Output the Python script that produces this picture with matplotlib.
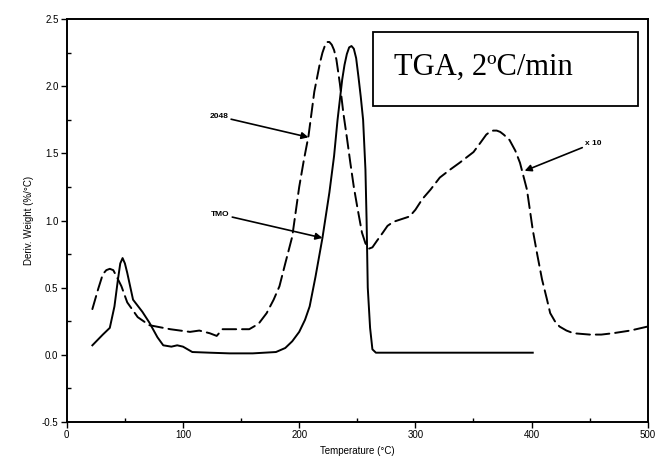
import matplotlib
matplotlib.use('Agg')
from matplotlib import pyplot as plt
from matplotlib.patches import Rectangle
from matplotlib.ticker import MultipleLocator

# 2048 sample (dashed)
t_2048 = [22, 27, 31, 34, 37, 40, 43, 47, 52, 61, 71, 89, 106, 114, 123, 129, 134, 149, 157,
          165, 172, 178, 183, 188, 194, 200, 204, 208, 213, 218, 220, 222, 224, 226, 228,
          230, 232, 235, 238, 241, 244, 247, 250, 254, 257, 260, 263, 267, 272, 276, 281,
          288, 295, 300, 306, 313, 321, 330, 338, 344, 350, 356, 361, 364, 367, 370, 373,
          376, 381, 386, 390, 396, 401, 405, 409, 413, 416, 420, 424, 430, 436, 450, 460,
          470, 485, 500]
d_2048 = [0.34, 0.49, 0.60, 0.63, 0.64, 0.63, 0.58, 0.51, 0.39, 0.28, 0.22, 0.19, 0.17,
          0.18, 0.16, 0.14, 0.19, 0.19, 0.19, 0.23, 0.31, 0.41, 0.51, 0.68, 0.88, 1.25,
          1.45, 1.63, 1.96, 2.18, 2.25, 2.30, 2.33, 2.33, 2.31, 2.27, 2.20, 2.02, 1.80,
          1.62, 1.43, 1.25, 1.10, 0.91, 0.83, 0.79, 0.80, 0.85, 0.91, 0.96, 0.99, 1.01,
          1.03, 1.08, 1.16, 1.23, 1.32, 1.38, 1.43, 1.47, 1.51, 1.58, 1.64, 1.66, 1.67,
          1.67, 1.66, 1.64, 1.60, 1.52, 1.43, 1.23, 0.93, 0.74, 0.56, 0.42, 0.31, 0.25,
          0.21, 0.18, 0.16, 0.15, 0.15, 0.16, 0.18, 0.21]

# TMO sample (solid)
t_tmo = [22, 31, 37, 41, 44, 46, 48, 50, 52, 57, 65, 71, 78, 83, 90, 95, 100, 108, 123,
         140, 160, 180, 188, 194, 200, 205, 209, 214, 220, 226, 230, 233, 237, 239, 241,
         243, 245, 247, 249, 251, 253, 255, 257, 258, 259, 261, 263, 266, 300, 350, 401]
d_tmo = [0.07, 0.15, 0.20, 0.36, 0.56, 0.68, 0.72, 0.68, 0.61, 0.41, 0.32, 0.24, 0.13,
         0.07, 0.06, 0.07, 0.06, 0.02, 0.015, 0.01, 0.01, 0.02, 0.05, 0.10, 0.17, 0.26,
         0.36, 0.58, 0.87, 1.21, 1.48, 1.75, 2.05, 2.16, 2.24, 2.29, 2.30, 2.28, 2.21,
         2.07, 1.92, 1.75, 1.38, 1.00, 0.50, 0.20, 0.04, 0.015, 0.015, 0.015, 0.015]

plt.rcParams['font.family'] = ['Liberation Sans', 'DejaVu Sans']

fig = plt.figure(figsize=(6.55, 4.57), dpi=100)
ax = fig.add_axes([0.102, 0.077, 0.887, 0.881])

ax.plot(t_2048, d_2048, color='black', lw=1.4, dashes=(7, 3),
        dash_joinstyle='round', dash_capstyle='round')
ax.plot(t_tmo, d_tmo, color='black', lw=1.4, solid_joinstyle='round')

ax.set_xlim(0, 500)
ax.set_ylim(-0.5, 2.5)
ax.xaxis.set_major_locator(MultipleLocator(100))
ax.xaxis.set_minor_locator(MultipleLocator(50))
ax.yaxis.set_major_locator(MultipleLocator(0.5))
ax.yaxis.set_minor_locator(MultipleLocator(0.25))
ax.yaxis.set_major_formatter(matplotlib.ticker.FormatStrFormatter('%.1f'))
ax.tick_params(which='major', direction='out', length=4, width=1, labelsize=7, pad=2)
ax.tick_params(which='minor', direction='in', length=3, width=1)
for s in ax.spines.values():
    s.set_linewidth(1.4)

ax.set_xlabel('Temperature (°C)', fontsize=7, labelpad=4)
ax.set_ylabel('Deriv. Weight (%/°C)', fontsize=7, labelpad=6)

# title box
ax.add_patch(Rectangle((0.527, 0.784), 0.456, 0.184, transform=ax.transAxes,
                       fill=False, ec='black', lw=1.3))
ax.text(0.563, 0.863, 'TGA, 2ºC/min', transform=ax.transAxes, fontsize=22,
        family='Liberation Serif', ha='left', va='baseline')

arrow = dict(arrowstyle='-|>', color='black', lw=1.2, mutation_scale=10, shrinkA=0, shrinkB=0)
ax.annotate('2048', xy=(208, 1.62), xytext=(139, 1.75), fontsize=6, fontweight='bold',
            ha='right', va='bottom', arrowprops=arrow)
ax.annotate('TMO', xy=(220, 0.87), xytext=(140, 1.02), fontsize=6, fontweight='bold',
            ha='right', va='bottom', arrowprops=arrow)
ax.annotate('x 10', xy=(394, 1.37), xytext=(446, 1.55), fontsize=6, fontweight='bold',
            ha='left', va='bottom', arrowprops=arrow)

fig.savefig('out.png', dpi=100)
